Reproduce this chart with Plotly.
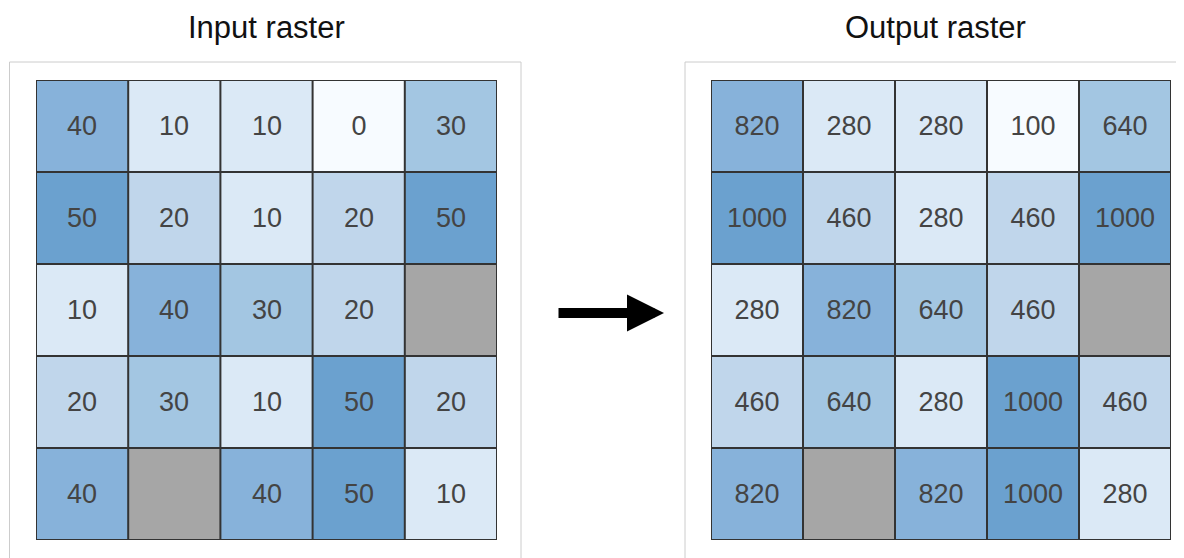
"""
Input raster -> output raster (reclassified cell values)
"""

import plotly.graph_objects as go

# Cell values, row by row from the top. None = NoData (grey cell)
input_values = [
    [40, 10, 10, 0, 30],
    [50, 20, 10, 20, 50],
    [10, 40, 30, 20, None],
    [20, 30, 10, 50, 20],
    [40, None, 40, 50, 10],
]
output_values = [
    [820, 280, 280, 100, 640],
    [1000, 460, 280, 460, 1000],
    [280, 820, 640, 460, None],
    [460, 640, 280, 1000, 460],
    [820, None, 820, 1000, 280],
]
input_classes = [0, 10, 20, 30, 40, 50]
output_classes = [100, 280, 460, 640, 820, 1000]
class_colors = ["#f7fbff", "#dbe9f6", "#c0d6eb", "#a3c6e2", "#87b2da", "#6ba1cf"]
panel_titles = ["Input raster", "Output raster"]

OFFSET = 8  # page body margin
W, H = 1184 + OFFSET, 558 + OFFSET
FONT = "Liberation Sans, Arial, sans-serif"


def px_x(v):
    return (v - OFFSET) / W


def px_y(v):
    return 1 - (v - OFFSET) / H


def make_heatmap(values, classes, xa, ya):
    lo, hi = classes[0], classes[-1]
    scale = [[(c - lo) / (hi - lo), col] for c, col in zip(classes, class_colors)]
    text = [["" if v is None else str(v) for v in row] for row in values]
    return go.Heatmap(
        z=values,
        text=text,
        texttemplate="%{text}",
        textfont=dict(size=27, color="#444444", family=FONT),
        colorscale=scale,
        zmin=lo,
        zmax=hi,
        showscale=False,
        hoverinfo="skip",
        xaxis=xa,
        yaxis=ya,
    )


fig = go.Figure()
fig.add_trace(make_heatmap(input_values, input_classes, "x", "y"))
fig.add_trace(make_heatmap(output_values, output_classes, "x2", "y2"))

# grid lines drawn over each raster
shapes = []
for values, xr, yr in [(input_values, "x", "y"), (output_values, "x2", "y2")]:
    nrows, ncols = len(values), len(values[0])
    for i in range(ncols + 1):
        shapes.append(dict(type="line", xref=xr, yref=yr, x0=i - 0.5, x1=i - 0.5,
                           y0=-0.5, y1=nrows - 0.5, line=dict(color="#333333", width=2)))
    for j in range(nrows + 1):
        shapes.append(dict(type="line", xref=xr, yref=yr, x0=-0.5, x1=ncols - 0.5,
                           y0=j - 0.5, y1=j - 0.5, line=dict(color="#333333", width=2)))

# light panel frames behind each raster
panel_style = dict(type="rect", xref="paper", yref="paper", layer="below",
                   line=dict(color="#cccccc", width=1), fillcolor="rgba(0,0,0,0)")
shapes.append(dict(panel_style, x0=px_x(9.5), x1=px_x(521), y0=px_y(600), y1=px_y(62)))
shapes.append(dict(panel_style, x0=px_x(685), x1=px_x(1230), y0=px_y(600), y1=px_y(62)))

axis_common = dict(showgrid=False, zeroline=False, showticklabels=False, ticks="")
fig.update_layout(
    width=W,
    height=H,
    margin=dict(l=0, r=0, t=0, b=0),
    paper_bgcolor="white",
    plot_bgcolor="#a6a6a6",
    shapes=shapes,
    xaxis=dict(axis_common, domain=[px_x(36), px_x(497)], range=[-0.5, 4.5]),
    yaxis=dict(axis_common, domain=[px_y(540), px_y(80)], range=[4.5, -0.5]),
    xaxis2=dict(axis_common, domain=[px_x(711), px_x(1171)], range=[-0.5, 4.5], anchor="y2"),
    yaxis2=dict(axis_common, domain=[px_y(540), px_y(80)], range=[4.5, -0.5], anchor="x2"),
)

# panel titles
for title, cx in zip(panel_titles, [266, 935]):
    fig.add_annotation(text=title, xref="paper", yref="paper", x=px_x(cx), y=px_y(27),
                       xanchor="center", yanchor="middle", showarrow=False,
                       font=dict(size=31, color="#111111", family=FONT))

# transformation arrow
fig.add_annotation(
    xref="paper", yref="paper", x=px_x(664), y=px_y(313),
    ax=-107, ay=0, axref="pixel", ayref="pixel",
    showarrow=True, arrowhead=2, arrowwidth=10, arrowsize=0.74,
    arrowcolor="black", text="",
)

fig.write_html("out.html")
